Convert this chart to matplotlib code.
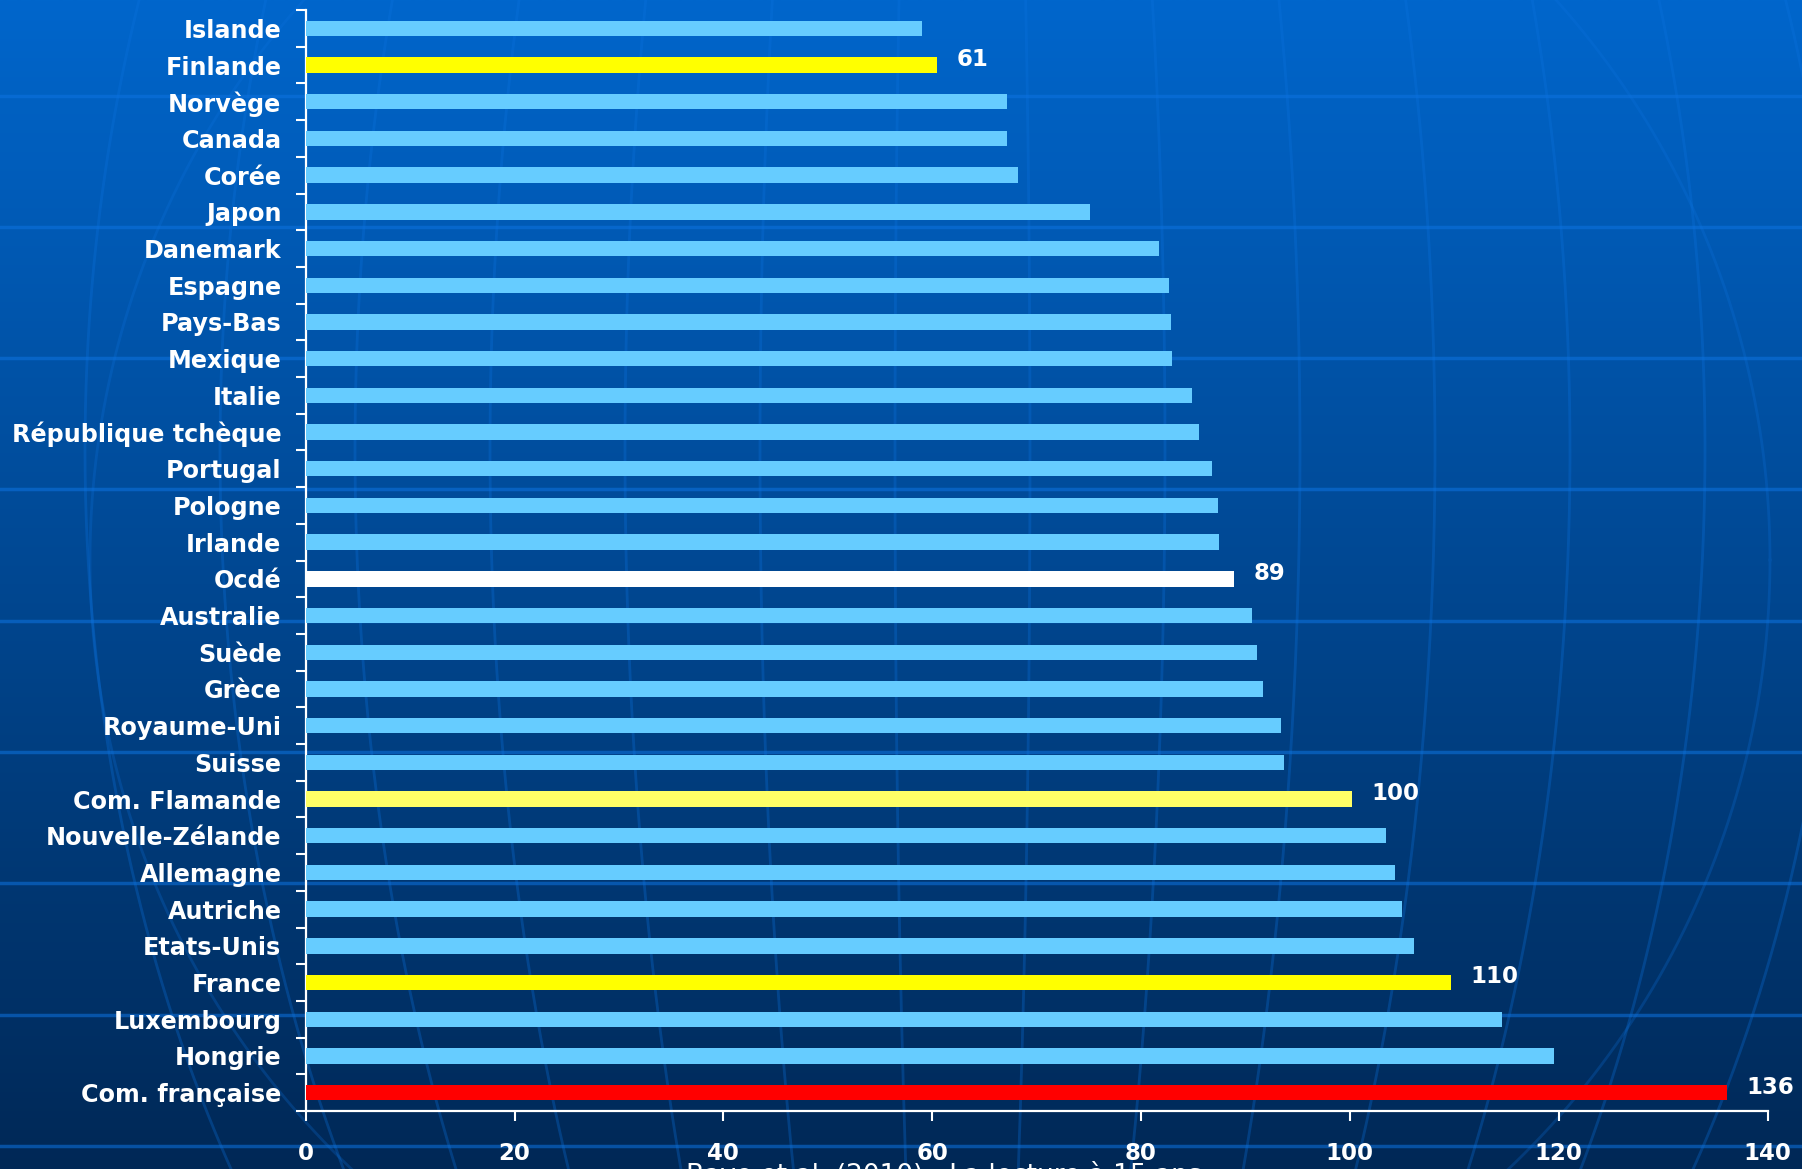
import numpy as np
import matplotlib
matplotlib.use("Agg")
import matplotlib.pyplot as plt

# countries, top to bottom as in the chart
pays = ['Islande', 'Finlande', 'Norvège', 'Canada', 'Corée', 'Japon', 'Danemark',
        'Espagne', 'Pays-Bas', 'Mexique', 'Italie', 'République tchèque', 'Portugal',
        'Pologne', 'Irlande', 'Ocdé', 'Australie', 'Suède', 'Grèce', 'Royaume-Uni',
        'Suisse', 'Com. Flamande', 'Nouvelle-Zélande', 'Allemagne', 'Autriche',
        'Etats-Unis', 'France', 'Luxembourg', 'Hongrie', 'Com. française']
valeurs = [59.0, 60.5, 67.2, 67.2, 68.2, 75.1, 81.7, 82.7, 82.9, 83.0, 84.9, 85.6,
           86.8, 87.4, 87.5, 88.9, 90.6, 91.1, 91.7, 93.4, 93.7, 100.2, 103.5, 104.3,
           105.0, 106.1, 109.7, 114.6, 119.6, 136.1]
# labelled bars
etiquettes = {'Finlande': '61', 'Ocdé': '89', 'Com. Flamande': '100',
              'France': '110', 'Com. française': '136'}
xticks = [0, 20, 40, 60, 80, 100, 120, 140]
source = 'Baye et al. (2010) : La lecture à 15 ans'

couleurs = {'Finlande': '#FFFF00', 'Ocdé': '#FFFFFF', 'Com. Flamande': '#FFFF66',
            'France': '#FFFF00', 'Com. française': '#FF0000'}
bleu_clair = '#66CCFF'

W, H = 1802, 1169
fig = plt.figure(figsize=(W / 100, H / 100), dpi=100)

# background: blue gradient + faint globe lines
bg = fig.add_axes([0, 0, 1, 1])
top = np.array([0, 102, 204]) / 255
bot = np.array([0, 40, 86]) / 255
t = np.linspace(0, 1, 400)[:, None, None]
grad = top * (1 - t) + bot * t
grad = np.repeat(grad, 2, axis=1)
bg.imshow(grad, extent=[0, W, H, 0], aspect='auto', interpolation='bilinear')
line_col = (0.05, 0.45, 0.88)
for yh in np.arange(95.5, H, 131.3):
    bg.plot([0, W], [yh, yh], color=line_col, lw=2.5, alpha=0.55)
yy = np.linspace(-50, H + 50, 400)
cx, cy, B = 960, 450, 1300
for a in np.arange(-875, 900, 135):
    xx = cx + a * np.sqrt(1 - ((yy - cy) / B) ** 2)
    bg.plot(xx, yy, color=line_col, lw=2, alpha=0.3)
th = np.linspace(0, 2 * np.pi, 400)
bg.plot(930 + 840 * np.cos(th), 560 + 840 * np.sin(th), color=line_col, lw=2, alpha=0.25)
bg.set_xlim(0, W)
bg.set_ylim(H, 0)
bg.axis('off')

# main chart
ax = fig.add_axes([305.7 / W, 1 - 1111 / H, (1767.5 - 305.7) / W, (1111 - 10) / H])
ax.patch.set_alpha(0)
n = len(pays)
y = np.arange(n)
cols = [couleurs.get(p, bleu_clair) for p in pays]
ax.barh(y, valeurs, height=0.42, color=cols, zorder=3)

for i, p in enumerate(pays):
    if p in etiquettes:
        ax.annotate(etiquettes[p], (valeurs[i], y[i]), xytext=(14, 4),
                    textcoords='offset points', ha='left', va='center',
                    color='white', fontsize=16.5, fontweight='bold')

ax.set_xlim(0, 140)
ax.set_ylim(n - 0.5, -0.5)
ax.set_yticks(y)
ax.set_yticklabels(pays)
ax.set_yticks(np.arange(-0.5, n, 1), minor=True)
ax.set_xticks(xticks)
ax.tick_params(axis='y', which='major', length=0, pad=17.5, labelsize=17.2,
               labelcolor='white')
ax.tick_params(axis='y', which='minor', length=7.2, width=1.5, color='white')
ax.tick_params(axis='x', length=7.2, width=1.5, color='white', pad=15,
               labelsize=16.5, labelcolor='white')
for lab in ax.get_yticklabels() + ax.get_xticklabels():
    lab.set_fontweight('bold')
for s in ['top', 'right']:
    ax.spines[s].set_visible(False)
for s in ['left', 'bottom']:
    ax.spines[s].set_color('white')
    ax.spines[s].set_linewidth(1.6)

fig.text(944 / W, 1 - 1161 / H, source, ha='center', va='top', color='white',
         fontsize=19)

fig.savefig('out.png', dpi=100)
